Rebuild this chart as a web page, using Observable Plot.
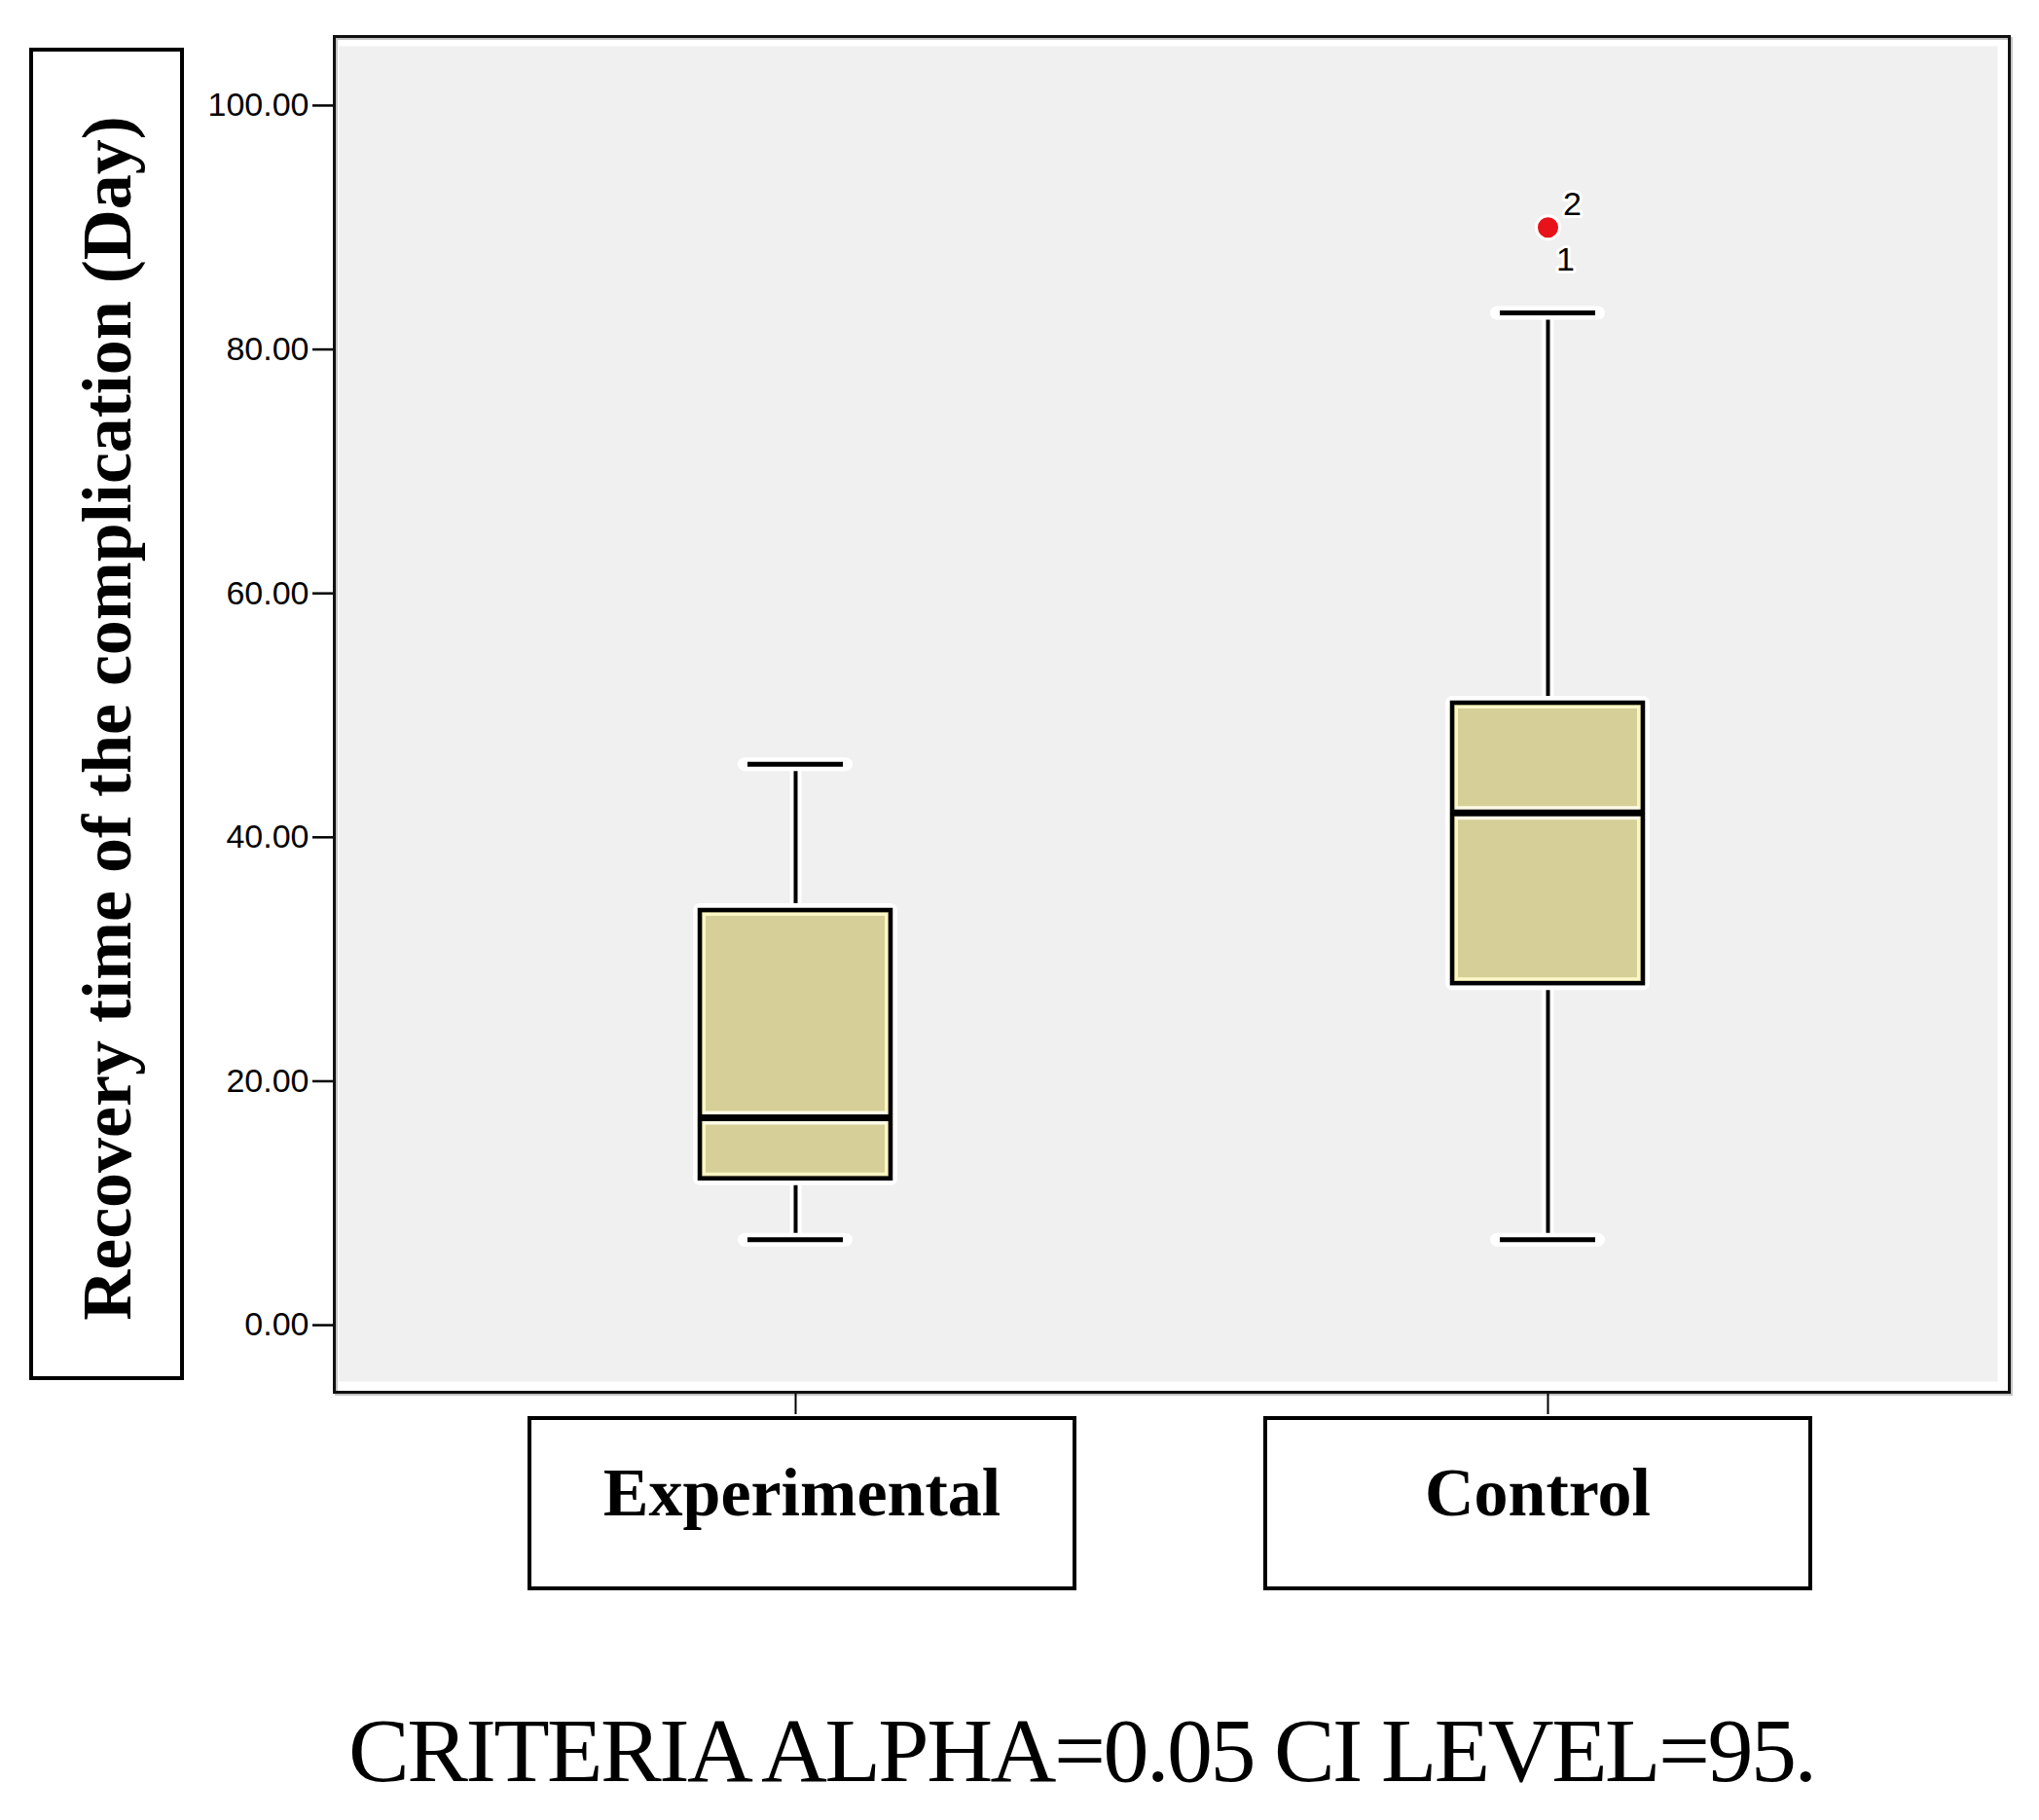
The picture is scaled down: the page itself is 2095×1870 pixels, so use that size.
<!DOCTYPE html>
<html>
<head>
<meta charset="utf-8">
<script src="https://cdn.jsdelivr.net/npm/d3@7"></script>
<script src="https://cdn.jsdelivr.net/npm/@observablehq/plot@0.6"></script>
<style>
  html, body { margin: 0; padding: 0; background: #fff; }
  #chart { position: relative; width: 2095px; height: 1870px; }
  #chart svg { position: absolute; left: 0; top: 0; }
  #caption {
    position: absolute; left: 358px; top: 1751px;
    font-family: "Liberation Serif", "Times New Roman", serif;
    font-size: 94px; line-height: 1; letter-spacing: -2.5px;
    white-space: nowrap; color: #000;
  }
</style>
</head>
<body>
<div id="chart"><div id="caption"></div></div>
<script>
// Box-plot summary per group (days)
const groups      = ["Experimental", "Control"];
const whiskerLow  = [7, 7];
const q1          = [12, 28];
const median      = [17, 42];
const q3          = [34, 51];
const whiskerHigh = [46, 83];

// Outlying cases
const outlierGroup = ["Control", "Control"];
const outlierValue = [90, 90];
const outlierCase  = ["1", "2"];

const yTicks = [0, 20, 40, 60, 80, 100];
const yTitle = "Recovery time of the complication (Day)";
const captionText = "CRITERIA ALPHA=0.05 CI LEVEL=95.";

// horizontal nudge of each boxed category label relative to its tick (px)
const labelNudge = {Experimental: 7, Control: -10};

const stats = groups.map((g, i) => ({
  group: g, lo: whiskerLow[i], q1: q1[i], med: median[i], q3: q3[i], hi: whiskerHigh[i]
}));
const outliers = outlierGroup.map((g, i) => ({group: g, value: outlierValue[i], id: outlierCase[i]}));

const boxFill = "#d6cf97";
const serif = "'Liberation Serif', 'Times New Roman', serif";

const plot = Plot.plot({
  width: 2095,
  height: 1700,
  marginLeft: 343,
  marginRight: 31,
  marginTop: 37,
  marginBottom: 270,
  style: {fontFamily: "'Liberation Sans', Arial, sans-serif", background: "transparent", color: "#000"},
  x: {type: "band", domain: groups, paddingInner: 0.7464, paddingOuter: 0.4864, round: false, axis: null},
  y: {domain: [-5.5, 105.66], axis: null},
  marks: [
    // plot area: soft shadow, grey panel
    Plot.frame({stroke: "#c4c4c4", strokeWidth: 3, dx: 2, dy: 2}),
    Plot.frame({fill: "#f0f0f0", insetTop: 10, insetBottom: 11, insetLeft: 5, insetRight: 12}),

    Plot.axisY({ticks: yTicks, tickFormat: d => d.toFixed(2), tickSize: 22, tickPadding: 4,
                fontSize: 34, strokeWidth: 2.5, label: null}),
    Plot.axisX({tickSize: 23, tickFormat: () => "", strokeWidth: 2, label: null}),

    // whiskers (white halo underneath)
    Plot.ruleX(stats, {x: "group", y1: "lo", y2: "q1", stroke: "white", strokeWidth: 12}),
    Plot.ruleX(stats, {x: "group", y1: "q3", y2: "hi", stroke: "white", strokeWidth: 12}),
    Plot.ruleX(stats, {x: "group", y1: "lo", y2: "q1", stroke: "black", strokeWidth: 4}),
    Plot.ruleX(stats, {x: "group", y1: "q3", y2: "hi", stroke: "black", strokeWidth: 4}),

    // whisker caps
    Plot.tickY(stats, {x: "group", y: "lo", insetLeft: 46, insetRight: 46, stroke: "white", strokeWidth: 14, strokeLinecap: "round"}),
    Plot.tickY(stats, {x: "group", y: "hi", insetLeft: 46, insetRight: 46, stroke: "white", strokeWidth: 14, strokeLinecap: "round"}),
    Plot.tickY(stats, {x: "group", y: "lo", insetLeft: 49, insetRight: 49, stroke: "black", strokeWidth: 5}),
    Plot.tickY(stats, {x: "group", y: "hi", insetLeft: 49, insetRight: 49, stroke: "black", strokeWidth: 5}),

    // boxes
    Plot.barY(stats, {x: "group", y1: "q1", y2: "q3", fill: "none", stroke: "white", strokeWidth: 14, strokeLinejoin: "round"}),
    Plot.barY(stats, {x: "group", y1: "q1", y2: "q3", fill: boxFill, stroke: "black", strokeWidth: 4.5}),
    Plot.barY(stats, {x: "group", y1: "q1", y2: "q3", inset: 4.5, fill: "none", stroke: "#fbf6c6", strokeWidth: 3}),

    // medians
    Plot.tickY(stats, {x: "group", y: "med", insetLeft: 4, insetRight: 4, stroke: "#fdfbe8", strokeWidth: 14}),
    Plot.tickY(stats, {x: "group", y: "med", stroke: "black", strokeWidth: 7}),

    // outliers with case numbers
    Plot.dot(outliers, {x: "group", y: "value", r: 12, fill: "#e8121b", stroke: "white", strokeWidth: 3}),
    Plot.text(outliers, {filter: d => d.id === "2", x: "group", y: "value", text: "id", dx: 25, dy: -24,
                         fontSize: 34, fill: "black", stroke: "white", strokeWidth: 6}),
    Plot.text(outliers, {filter: d => d.id === "1", x: "group", y: "value", text: "id", dx: 18, dy: 33,
                         fontSize: 34, fill: "black", stroke: "white", strokeWidth: 6}),

    Plot.frame({stroke: "#111", strokeWidth: 3})
  ]
});

// Boxed category labels below the axis and boxed vertical title
const svg = d3.select(plot);
const x = plot.scale("x");
const deco = svg.append("g");
groups.forEach(g => {
  const cx = x.apply(g) + x.bandwidth / 2 + labelNudge[g];
  deco.append("rect")
    .attr("x", cx - 280).attr("y", 1457).attr("width", 560).attr("height", 175)
    .attr("fill", "white").attr("stroke", "black").attr("stroke-width", 4);
  deco.append("text")
    .attr("x", cx).attr("y", 1557)
    .attr("text-anchor", "middle")
    .attr("font-family", serif).attr("font-weight", "bold").attr("font-size", 70)
    .attr("fill", "black")
    .text(g);
});
deco.append("rect")
  .attr("x", 32).attr("y", 51).attr("width", 155).attr("height", 1365)
  .attr("fill", "white").attr("stroke", "black").attr("stroke-width", 4);
deco.append("text")
  .attr("transform", "translate(134,738) rotate(-90)")
  .attr("text-anchor", "middle")
  .attr("font-family", serif).attr("font-weight", "bold").attr("font-size", 72)
  .attr("fill", "black")
  .text(yTitle);

document.getElementById("chart").prepend(plot);
document.getElementById("caption").textContent = captionText;
</script>
</body>
</html>
